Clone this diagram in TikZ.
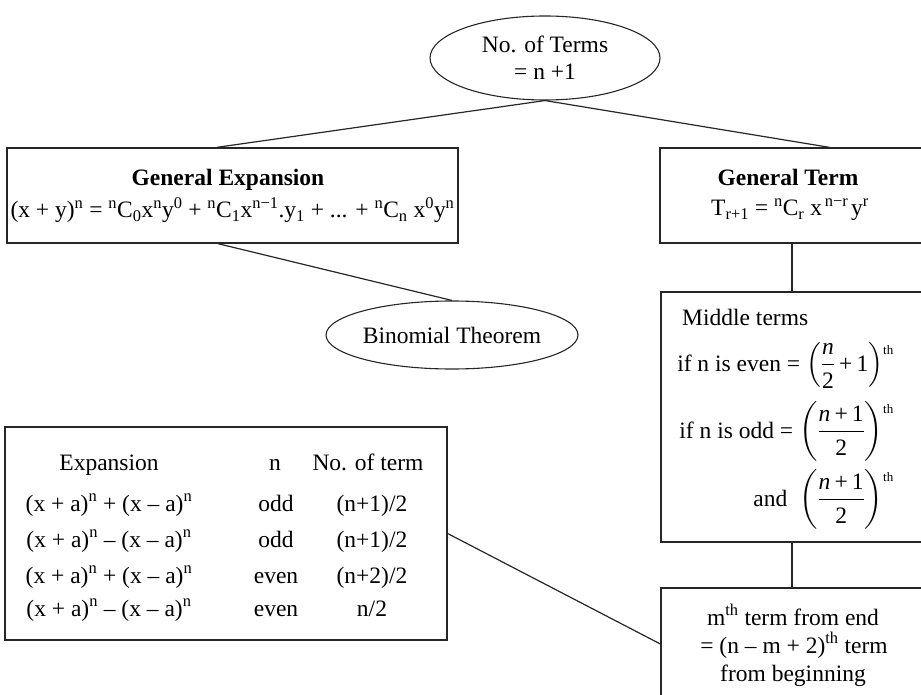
\documentclass[tikz,border=0pt]{standalone}
\usepackage{amsmath}
\usepackage{fontspec}
\setmainfont{Liberation Serif}
\usetikzlibrary{shapes.geometric}
\newcommand\mysup[1]{\textsuperscript{#1}}
\newcommand\mysub[1]{\textsubscript{#1}}
\newcommand\mymi{−}
\newcommand\myth{^{\raisebox{-5pt}{\fontsize{13}{13}\selectfont th}}}
\newcommand\myfr[2]{\displaystyle\left(\frac{#1}{#2}\right)\myth}
\begin{document}
\begin{tikzpicture}[x=1pt,y=-1pt,
  every node/.style={font=\fontsize{23.5}{27}\selectfont},
  box/.style={draw=black!85, line width=1.3pt, rectangle, inner sep=0pt},
  oval/.style={draw=black!85, line width=1.1pt, ellipse, inner sep=0pt, align=center},
  txt/.style={inner sep=0pt, anchor=base},
  link/.style={draw=black!85, line width=1.2pt}]
\useasboundingbox (0,0) rectangle (921,695);
\clip (0,0) rectangle (921,695);
% shapes
\node[oval, minimum width=230pt, minimum height=84pt] (terms) at (545,58) {No. of Terms\\= n +1};
\node[box, minimum width=451pt, minimum height=95pt] (ge) at (232.5,195.5) {};
\node[box, minimum width=275pt, minimum height=95pt] (gt) at (797.5,195.5) {};
\node[oval, minimum width=232pt, minimum height=68pt] (binom) at (452,335) {Binomial Theorem};
\node[box, minimum width=274pt, minimum height=250pt] (mid) at (798,417) {};
\node[box, minimum width=274pt, minimum height=112pt] (mth) at (798,644) {};
\node[box, minimum width=442pt, minimum height=213pt] (tbl) at (226,533.5) {};
% general expansion
\node[txt, font=\fontsize{23.5}{27}\selectfont\bfseries] (geh) at (228,186) {General Expansion};
\node[txt] (gef) at (232.5,218) {(x + y)\mysup{n} = \mysup{n}C\mysub{0}x\mysup{n}y\mysup{0} + \mysup{n}C\mysub{1}x\mysup{n\mymi1}.y\mysub{1} + ... + \mysup{n}C\mysub{n} x\mysup{0}y\mysup{n}};
% general term
\node[txt, font=\fontsize{23.5}{27}\selectfont\bfseries] (gth) at (788,186) {General Term};
\node[txt] (gtf) at (790,216) {T\mysub{r+1} = \mysup{n}C\mysub{r} x\mysup{\,n\mymi r\,}y\mysup{r}};
% middle terms
\node[txt, anchor=base west] (m0) at (682,325) {Middle terms};
\node[txt, anchor=base east] (m1) at (894,371) {if n is even = $\displaystyle\left(\frac{\textit{n}}{\textrm{2}}\,\textrm{+}\,\textrm{1}\right)\myth$};
\node[txt, anchor=base east] (m2) at (894,438) {if n is odd = $\myfr{\textit{n}\,\textrm{+}\,\textrm{1}}{\textrm{2}}$};
\node[txt, anchor=base east] (m3) at (894,506) {and \ $\myfr{\textit{n}\,\textrm{+}\,\textrm{1}}{\textrm{2}}$};
% m-th term
\node[txt] (e1) at (793,625) {m\mysup{th} term from end};
\node[txt] (e2) at (794,653) {= (n – m + 2)\mysup{th} term};
\node[txt] (e3) at (793,681) {from beginning};
% table
\node[txt] (h1) at (109,470) {Expansion};
\node[txt] (h2) at (275,470) {n};
\node[txt] (h3) at (368,470) {No. of term};
\node[txt] (r11) at (109,511) {(x + a)\mysup{n} + (x – a)\mysup{n}};
\node[txt] (r12) at (276,511) {odd};
\node[txt] (r13) at (372,511) {(n+1)/2};
\node[txt] (r21) at (109,547) {(x + a)\mysup{n} – (x – a)\mysup{n}};
\node[txt] (r22) at (276,547) {odd};
\node[txt] (r23) at (372,547) {(n+1)/2};
\node[txt] (r31) at (109,583) {(x + a)\mysup{n} + (x – a)\mysup{n}};
\node[txt] (r32) at (276,583) {even};
\node[txt] (r33) at (372,583) {(n+2)/2};
\node[txt] (r41) at (109,616) {(x + a)\mysup{n} – (x – a)\mysup{n}};
\node[txt] (r42) at (276,616) {even};
\node[txt] (r43) at (372,616) {n/2};
% connectors
\draw[link] (terms.south) -- ([xshift=-15.5pt]ge.north);
\draw[link] (terms.south) -- ([xshift=32pt]gt.north);
\draw[link] ([xshift=-14.5pt]ge.south) -- (binom.north);
\draw[link] ([xshift=-5.5pt]gt.south) -- ([xshift=-6pt]mid.north);
\draw[link] ([xshift=-6pt]mid.south) -- ([xshift=-6pt]mth.north);
\draw[link] (tbl.east) -- (mth.west);
\end{tikzpicture}
\end{document}
